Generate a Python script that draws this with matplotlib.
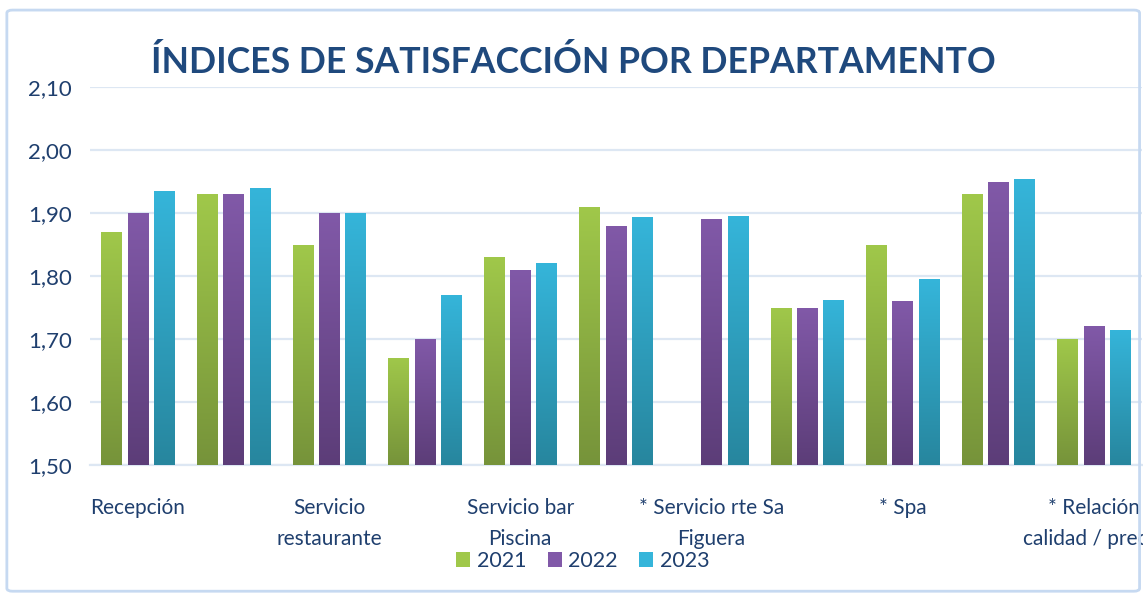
import numpy as np
import matplotlib
matplotlib.use('Agg')
import matplotlib.pyplot as plt
from matplotlib.colors import LinearSegmentedColormap
from matplotlib.patches import FancyBboxPatch
from matplotlib.ticker import FuncFormatter

## Data.
categories = ['Recepción', '', 'Servicio\nrestaurante', '', 'Servicio bar\nPiscina', '',
              '* Servicio rte Sa\nFiguera', '', '* Spa', '', '* Relación\ncalidad / precio']
years = ['2021', '2022', '2023']
values_2021 = [1.87, 1.93, 1.85, 1.67, 1.83, 1.91, np.nan, 1.75, 1.85, 1.93, 1.70]
values_2022 = [1.90, 1.93, 1.90, 1.70, 1.81, 1.88, 1.89, 1.75, 1.76, 1.95, 1.72]
values_2023 = [1.935, 1.94, 1.90, 1.77, 1.82, 1.893, 1.895, 1.762, 1.795, 1.954, 1.715]

## (top colour, bottom colour) for each series gradient.
grad_colors = [('#a0c84a', '#76933a'), ('#8159a8', '#5c3d78'), ('#35b5da', '#27869e')]
text_color = '#1f3f6e'

plt.rcParams['font.family'] = ['Lato', 'DejaVu Sans']

fig = plt.figure(figsize=(11.43, 5.93), dpi=100)
ax = fig.add_axes([0.0787, 0.2158, 0.92, 0.6375])

x = np.arange(len(categories))
bar_w = 0.21
step = 0.275
series = [values_2021, values_2022, values_2023]

gradient = np.linspace(0, 1, 256).reshape(-1, 1)
for i, vals in enumerate(series):
  offs = (i - 1) * step
  bars = ax.bar(x + offs, np.array(vals) - 1.5, bar_w, bottom=1.5,
                facecolor='none', edgecolor='none', zorder=3)
  cmap = LinearSegmentedColormap.from_list('g%d' % i, [grad_colors[i][1], grad_colors[i][0]])
  for b in bars:
    h = b.get_height()
    if np.isnan(h):
      continue
    x0 = b.get_x()
    im = ax.imshow(gradient, cmap=cmap, origin='lower', aspect='auto',
                   extent=(x0, x0 + b.get_width(), 1.5, 1.5 + h), zorder=3)
    im.set_clip_path(b)

## Legend proxies.
for i, yr in enumerate(years):
  ax.bar([0], [0], color=grad_colors[i][0], label=yr)

ax.set_xlim(-0.5, len(categories) - 0.5)
ax.set_ylim(1.5, 2.1)
ax.set_yticks(np.arange(1.5, 2.11, 0.1))
ax.yaxis.set_major_formatter(FuncFormatter(lambda v, p: ('%.2f' % v).replace('.', ',')))
ax.set_xticks(x)
ax.set_xticklabels(categories, linespacing=1.65)
ax.tick_params(axis='x', length=0, pad=24, labelsize=15, colors=text_color)
ax.tick_params(axis='y', length=0, pad=13, labelsize=16, colors=text_color)

ax.grid(axis='y', color='#dde7f3', linewidth=1.6, zorder=0)
ax.set_axisbelow(True)
for s in ['top', 'right', 'left']:
  ax.spines[s].set_visible(False)
ax.spines['bottom'].set_color('#dde7f3')
ax.spines['bottom'].set_linewidth(1.6)
ax.set_facecolor('none')

handles, labels = ax.get_legend_handles_labels()
fig.legend(handles[-3:], labels[-3:], loc='center', bbox_to_anchor=(0.51, 0.054), ncol=3,
           frameon=False, fontsize=15.5, handlelength=0.65, handleheight=0.65,
           handletextpad=0.3, columnspacing=1.0, labelcolor=text_color)

fig.text(0.502, 0.896, 'ÍNDICES DE SATISFACCIÓN POR DEPARTAMENTO', ha='center', va='center',
         fontsize=25.7, fontweight='bold', color='#1f497d')

## Outer chart border.
fig.patches.append(FancyBboxPatch((0.006, 0.003), 0.991, 0.98, boxstyle='round,pad=0,rounding_size=0.005',
                                  transform=fig.transFigure, facecolor='none',
                                  edgecolor='#c6d9f1', linewidth=2))

fig.savefig('out.png', dpi=100)
